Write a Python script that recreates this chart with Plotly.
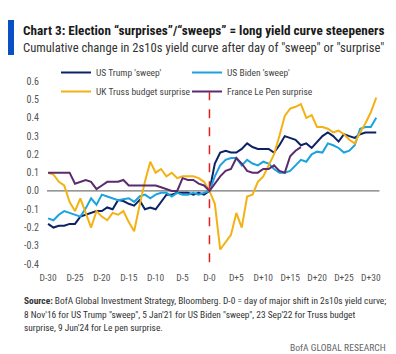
import plotly.graph_objects as go

days = list(range(-30, 32))
trump = [-0.18, -0.20, -0.19, -0.19, -0.18, -0.18, -0.14, -0.13, -0.12, -0.11,
         -0.11, -0.09, -0.10, -0.05, -0.055, -0.07, -0.08, -0.05, -0.10, -0.09,
         -0.10, -0.06, -0.02, -0.02, -0.01, -0.01, -0.01, -0.02, -0.01, -0.02,
         0.0, 0.15, 0.21, 0.22, 0.21, 0.21, 0.23, 0.26, 0.24, 0.23,
         0.23, 0.23, 0.21, 0.25, 0.30, 0.29, 0.28, 0.25, 0.26, 0.235,
         0.27, 0.30, 0.32, 0.30, 0.27, 0.31, 0.30, 0.29, 0.31, 0.32,
         0.32, 0.32]
biden = [-0.15, -0.16, -0.13, -0.11, -0.12, -0.13, -0.14, -0.095, -0.04, -0.075,
         -0.02, -0.03, -0.04, -0.05, -0.045, -0.04, -0.06, -0.03, -0.02, -0.04,
         -0.02, -0.01, -0.01, -0.03, -0.01, -0.02, -0.02, -0.01, -0.02, -0.01,
         0.0, 0.08, 0.14, 0.17, 0.18, 0.18, 0.14, 0.17, 0.15, 0.14,
         0.16, 0.15, 0.12, 0.10, 0.10, 0.11, 0.14, 0.17, 0.16, 0.20,
         0.215, 0.21, 0.26, 0.25, 0.235, 0.21, 0.22, 0.25, 0.34, 0.35,
         0.35, 0.40]
truss = [0.10, 0.09, 0.05, 0.03, -0.06, -0.11, -0.04, -0.12, -0.20, -0.11,
         -0.14, -0.16, -0.12, -0.13, -0.11, -0.17, -0.22, -0.08, 0.05, 0.16,
         0.10, 0.12, 0.08, 0.10, 0.07, 0.08, 0.08, 0.08, 0.07, 0.05,
         0.0, -0.07, -0.32, -0.28, -0.24, -0.12, -0.20, -0.03, -0.02, 0.05,
         0.08, 0.14, 0.20, 0.30, 0.41, 0.45, 0.46, 0.475, 0.40, 0.415,
         0.35, 0.35, 0.34, 0.32, 0.33, 0.31, 0.28, 0.26, 0.32, 0.37,
         0.43, 0.51]
lepen_days = list(range(-30, 18))
lepen = [0.10, 0.10, 0.10, 0.10, 0.10, 0.04, 0.05, 0.06, 0.05, 0.01,
         0.03, 0.05, 0.05, 0.05, 0.06, 0.03, 0.03, 0.03, 0.03, 0.03,
         0.03, 0.02, 0.01, 0.0, 0.0, 0.07, 0.06, 0.06, 0.04, 0.03,
         0.0, 0.04, 0.08, 0.11, 0.12, 0.18, 0.15, 0.11, 0.10, 0.10,
         0.12, 0.12, 0.14, 0.11, 0.10, 0.19, 0.22, 0.24]

tick_vals = list(range(-30, 31, 5))
tick_text = ["D-30", "D-25", "D-20", "D-15", "D-10", "D-5", "D-0",
             "D+5", "D+10", "D+15", "D+20", "D+25", "D+30"]
y_ticks = [-0.4, -0.3, -0.2, -0.1, 0.0, 0.1, 0.2, 0.3, 0.4, 0.5, 0.6]
y_text = ["-0.4", "-0.3", "-0.2", "-0.1", "0.0", "0.1", "0.2", "0.3", "0.4", "0.5", "0.6"]

COND = "Roboto Condensed, Roboto, sans-serif"

fig = go.Figure()
fig.add_trace(go.Scatter(x=days, y=trump, mode="lines", name="US Trump 'sweep'",
                         line=dict(color="#0B2266", width=2)))
fig.add_trace(go.Scatter(x=days, y=biden, mode="lines", name="US Biden 'sweep'",
                         line=dict(color="#1BA3DD", width=2)))
fig.add_trace(go.Scatter(x=days, y=truss, mode="lines", name="UK Truss budget surprise",
                         line=dict(color="#F2B213", width=2)))
fig.add_trace(go.Scatter(x=lepen_days, y=lepen, mode="lines", name="France Le Pen surprise",
                         line=dict(color="#5C2A6E", width=2)))

L, R, T, B = 40, 16, 62, 84
W, H = 396, 354
pw, ph = W - L - R, H - T - B

def px(x):
    return (x - L) / pw

def py(y):
    return (H - B - y) / ph

shapes = [
    dict(type="line", xref="x", yref="y", x0=-30.2, x1=31.6, y0=0, y1=0,
         line=dict(color="#777777", width=1.2), layer="below"),
    dict(type="line", xref="x", yref="y", x0=0, x1=0, y0=-0.39, y1=0.54,
         line=dict(color="#E3211B", width=1.5, dash="dash")),
    dict(type="rect", xref="paper", yref="paper", x0=px(8), x1=px(14), y0=py(55), y1=py(20),
         fillcolor="#0A4FC4", line=dict(width=0)),
]

ann = [
    dict(text="<b>Chart 3: Election “surprises”/“sweeps” = long yield curve steepeners</b>",
         x=px(21), y=py(30), font=dict(size=13.2, color="#1a1a1a", family=COND)),
    dict(text="Cumulative change in 2s10s yield curve after day of \"sweep\" or \"surprise\"",
         x=px(21), y=py(47), font=dict(size=12.6, color="#333333", family=COND)),
    dict(text="<b>Source:</b> BofA Global Investment Strategy, Bloomberg. D-0 = day of major shift in 2s10s yield curve;",
         x=px(22), y=py(300), font=dict(size=9.4, color="#333333", family=COND)),
    dict(text="8 Nov'16 for US Trump \"sweep\", 5 Jan'21 for US Biden \"sweep\", 23 Sep'22 for Truss budget",
         x=px(22), y=py(314), font=dict(size=9.4, color="#333333", family=COND)),
    dict(text="surprise, 9 Jun'24 for Le pen surprise.",
         x=px(22), y=py(327), font=dict(size=9.4, color="#333333", family=COND)),
]
for a in ann:
    a.update(xref="paper", yref="paper", xanchor="left", yanchor="middle", showarrow=False)
ann.append(dict(text="BofA GLOBAL RESEARCH", xref="paper", yref="paper", x=px(388), y=py(347),
                xanchor="right", yanchor="middle", showarrow=False,
                font=dict(size=9.6, color="#666666", family=COND)))

fig.update_layout(
    width=W, height=H,
    margin=dict(l=L, r=R, t=T, b=B, pad=0),
    paper_bgcolor="white", plot_bgcolor="white",
    font=dict(family=COND, size=9.5, color="#555555"),
    showlegend=True,
    legend=dict(orientation="h", x=px(56), y=py(58), xanchor="left", yanchor="top",
                entrywidth=86, entrywidthmode="pixels", tracegroupgap=0,
                font=dict(size=9.5, color="#444444", family=COND),
                bgcolor="rgba(0,0,0,0)", itemwidth=30),
    xaxis=dict(range=[-31.5, 31.7], tickvals=tick_vals, ticktext=tick_text,
               showgrid=False, zeroline=False, showline=False, ticks="",
               tickfont=dict(size=9.5, color="#555555", family=COND)),
    yaxis=dict(range=[-0.432, 0.705], tickvals=y_ticks, ticktext=y_text,
               showgrid=False, zeroline=False, showline=False, ticks="",
               tickfont=dict(size=10, color="#555555", family=COND)),
    shapes=shapes, annotations=ann,
)

fig.write_html("out.html")
